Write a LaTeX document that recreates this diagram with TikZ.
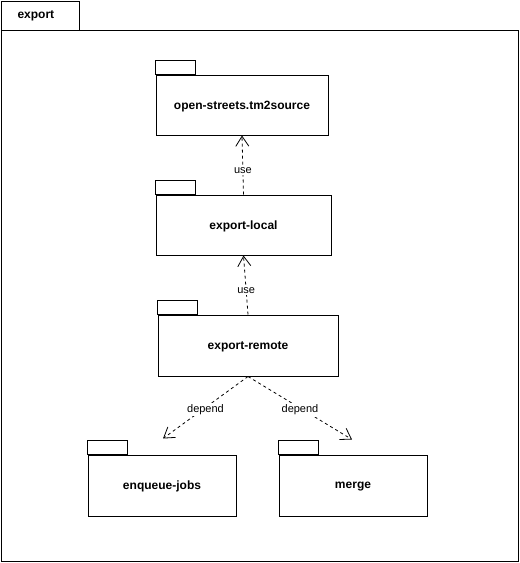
\documentclass[tikz,border=0pt]{standalone}
\usepackage{fontspec}
\setmainfont{Liberation Sans}
\usetikzlibrary{arrows.meta,calc}
\tikzset{
  pkg/.style={draw, line width=1pt, font=\bfseries\fontsize{12}{14}\selectfont,
    inner sep=0pt, text depth=0pt, minimum width=#1, minimum height=61pt},
  pkgtab/.style={draw, line width=1pt},
  dep/.style={line width=0.8pt, dash pattern=on 3pt off 3pt,
    -{Straight Barb[length=10pt,width=13pt]}},
  lbl/.style={fill=white, inner sep=1.5pt, font=\fontsize{11}{13}\selectfont}
}
\begin{document}
\begin{tikzpicture}[x=1pt,y=-1pt]
\useasboundingbox (0,0) rectangle (520,563);

% outer package frame with its tab
\draw[pkgtab] (1,30) rectangle (518,561);
\draw[pkgtab] (1,1) rectangle (79,30);
\node[font=\bfseries\fontsize{12}{14}\selectfont, anchor=west] (title) at (14,16) {export};

% packages
\node[pkg=172pt, minimum height=60pt] (p1) at (242,105) {open-streets.tm2source};
\node[pkg=175pt, minimum height=60pt] (p2) at (243.5,225) {export-local};
\node[pkg=180pt] (p3) at (248,345.5) {export-remote};
\node[pkg=148pt] (p4) at (162,485.5) {enqueue-jobs};
\node[pkg=148pt] (p5) at (353,485.5) {merge};

% package tabs
\foreach \p in {p1,p2,p3,p4,p5}
  \draw[pkgtab] (\p.north west) rectangle ++(40,-14);

% dependency ends
\coordinate (e4) at ($(p4.north)+(1,-16)$);
\coordinate (e5) at ($(p5.north)+(-1,-15)$);

% dependencies
\draw[dep] (p2.north) -- node[lbl, pos=0.4] {use} (p1.south);
\draw[dep] (p3.north) -- node[lbl, pos=0.4] {use} (p2.south);
\draw[dep] (p3.south) -- node[lbl, yshift=-2pt] {depend} (e4);
\draw[dep] (p3.south) -- node[lbl, yshift=-2pt] {depend} (e5);
\end{tikzpicture}
\end{document}
